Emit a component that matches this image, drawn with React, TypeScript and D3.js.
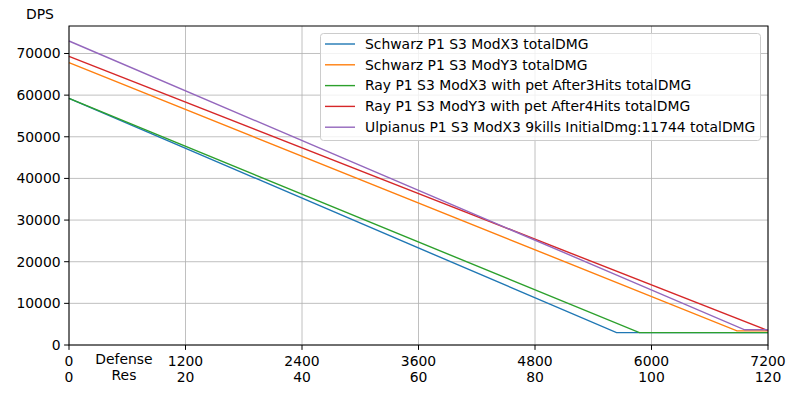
import { useEffect, useRef } from 'react';
import * as d3 from 'd3';

// series and their piecewise breakpoints
const seriesNames = [
  'Schwarz P1 S3 ModX3 totalDMG',
  'Schwarz P1 S3 ModY3 totalDMG',
  'Ray P1 S3 ModX3 with pet After3Hits totalDMG',
  'Ray P1 S3 ModY3 with pet After4Hits totalDMG',
  'Ulpianus P1 S3 ModX3 9kills InitialDmg:11744 totalDMG',
];
const seriesColors = ['#1f77b4', '#ff7f0e', '#2ca02c', '#d62728', '#9467bd'];
const startDps = [59200, 67800, 59200, 69300, 73000];
const breakDefense = [5640, 6880, 5875, 7200, 6960];
const floorDps = [2960, 3390, 2960, 3460, 3650];

const defenseTicks = [0, 1200, 2400, 3600, 4800, 6000, 7200];
const resTicks = ['0', '20', '40', '60', '80', '100', '120'];
const dpsTicks = [0, 10000, 20000, 30000, 40000, 50000, 60000, 70000];

const W = 800;
const H = 400;
const FONT = '"DejaVu Sans", sans-serif';
const FS = 13.9;

export default function App() {
  const svgRef = useRef<SVGSVGElement>(null);

  useEffect(() => {
    if (!svgRef.current) return;
    const svg = d3.select(svgRef.current);
    svg.selectAll('*').remove();

    const margin = { top: 26, right: 32, bottom: 55, left: 69 };
    const x = d3.scaleLinear().domain([0, 7200]).range([margin.left, W - margin.right]);
    const y = d3.scaleLinear().domain([0, 76600]).range([H - margin.bottom, margin.top]);

    svg.append('rect').attr('width', W).attr('height', H).attr('fill', '#fff');

    // grid
    const grid = svg.append('g').attr('stroke', '#b0b0b0').attr('stroke-width', 0.8);
    defenseTicks.forEach((t) => {
      grid.append('line').attr('x1', x(t)).attr('x2', x(t)).attr('y1', y.range()[0]).attr('y2', y.range()[1]);
    });
    dpsTicks.forEach((t) => {
      grid.append('line').attr('x1', x.range()[0]).attr('x2', x.range()[1]).attr('y1', y(t)).attr('y2', y(t));
    });

    // lines
    const line = d3
      .line<[number, number]>()
      .x((d) => x(d[0]))
      .y((d) => y(d[1]));
    seriesNames.forEach((_, i) => {
      const pts: [number, number][] = [
        [0, startDps[i]],
        [breakDefense[i], floorDps[i]],
        [7200, floorDps[i]],
      ];
      svg
        .append('path')
        .attr('d', line(pts))
        .attr('fill', 'none')
        .attr('stroke', seriesColors[i])
        .attr('stroke-width', 1.4);
    });

    // spines
    svg
      .append('rect')
      .attr('x', x.range()[0])
      .attr('y', y.range()[1])
      .attr('width', x.range()[1] - x.range()[0])
      .attr('height', y.range()[0] - y.range()[1])
      .attr('fill', 'none')
      .attr('stroke', '#000')
      .attr('stroke-width', 1);

    // y axis
    const yAxis = svg.append('g');
    dpsTicks.forEach((t) => {
      yAxis.append('line').attr('x1', x(0) - 4.9).attr('x2', x(0)).attr('y1', y(t)).attr('y2', y(t)).attr('stroke', '#000');
      yAxis
        .append('text')
        .attr('x', x(0) - 8.4)
        .attr('y', y(t))
        .attr('dy', '0.35em')
        .attr('text-anchor', 'end')
        .attr('font-family', FONT)
        .attr('font-size', FS)
        .text(t);
    });
    svg
      .append('text')
      .attr('x', 40)
      .attr('y', 19)
      .attr('text-anchor', 'middle')
      .attr('font-family', FONT)
      .attr('font-size', FS)
      .text('DPS');

    // x axis with two rows of labels
    const xAxis = svg.append('g');
    const y0 = y(0);
    defenseTicks.forEach((t, i) => {
      xAxis.append('line').attr('x1', x(t)).attr('x2', x(t)).attr('y1', y0).attr('y2', y0 + 4.9).attr('stroke', '#000');
      xAxis
        .append('text')
        .attr('x', x(t))
        .attr('y', y0 + 21)
        .attr('text-anchor', 'middle')
        .attr('font-family', FONT)
        .attr('font-size', FS)
        .text(t);
      xAxis
        .append('text')
        .attr('x', x(t))
        .attr('y', y0 + 37)
        .attr('text-anchor', 'middle')
        .attr('font-family', FONT)
        .attr('font-size', FS)
        .text(resTicks[i]);
    });
    ['Defense', 'Res'].forEach((s, i) => {
      svg
        .append('text')
        .attr('x', 124)
        .attr('y', y0 + 19 + i * 16)
        .attr('text-anchor', 'middle')
        .attr('font-family', FONT)
        .attr('font-size', FS)
        .text(s);
    });

    // legend
    const lg = svg.append('g');
    lg.append('rect')
      .attr('x', 320.5)
      .attr('y', 33.5)
      .attr('width', 440)
      .attr('height', 107)
      .attr('rx', 3)
      .attr('fill', '#fff')
      .attr('fill-opacity', 0.8)
      .attr('stroke', '#cccccc')
      .attr('stroke-width', 1);
    seriesNames.forEach((name, i) => {
      const cy = 44 + i * 20.8;
      lg.append('line')
        .attr('x1', 325)
        .attr('x2', 355)
        .attr('y1', cy)
        .attr('y2', cy)
        .attr('stroke', seriesColors[i])
        .attr('stroke-width', 1.4);
      lg.append('text')
        .attr('x', 365)
        .attr('y', cy)
        .attr('dy', '0.35em')
        .attr('font-family', FONT)
        .attr('font-size', FS)
        .text(name);
    });
  }, []);

  return (
    <svg
      ref={svgRef}
      width={W}
      height={H}
      style={{ position: 'absolute', left: 0, top: 0, display: 'block' }}
    />
  );
}
